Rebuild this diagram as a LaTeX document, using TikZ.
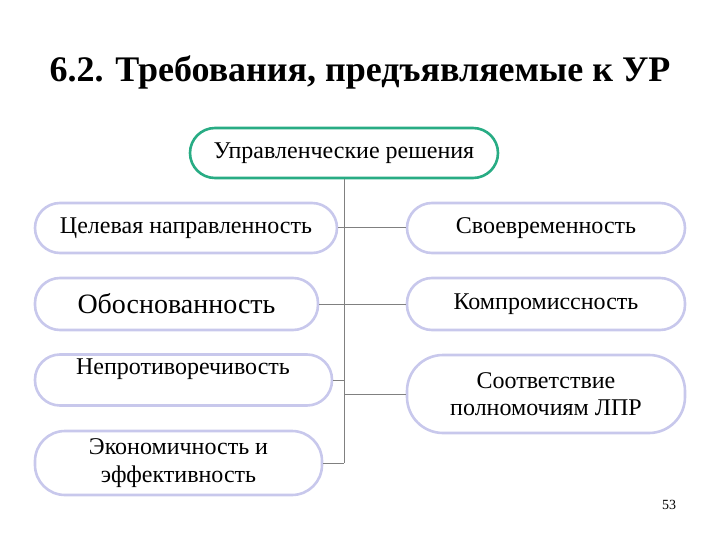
\documentclass[tikz,border=0pt]{standalone}
\usepackage{fontspec}
\setmainfont{Liberation Serif}
\usetikzlibrary{positioning}
\definecolor{topgreen}{RGB}{40,172,132}
\definecolor{lav}{RGB}{200,200,236}
\definecolor{conn}{RGB}{128,128,128}
\tikzset{
  pill/.style={draw=lav, line width=2.6pt, fill=white, rounded corners=25pt, inner sep=0pt, align=center, font=\fontsize{24}{27.5}\selectfont},
  toppill/.style={pill, draw=topgreen},
  link/.style={draw=conn, line width=1pt}
}
\begin{document}
\begin{tikzpicture}[x=1pt,y=-1pt]
\useasboundingbox (0,0) rectangle (720,540);
\node (title) at (360,72) {\fontsize{36}{40}\selectfont\bfseries 6.2. Требования, предъявляемые к УР};
\node[toppill, minimum width=308pt, minimum height=50pt] (top) at (344,153) {Управленческие решения};
% left column
\node[pill, minimum width=302pt, minimum height=50pt] (l1) at (186,228) {Целевая направленность};
\node[pill, minimum width=283pt, minimum height=52pt, font=\fontsize{28}{30}\selectfont] (l2) at (176.5,304) {Обоснованность};
\node[pill, minimum width=297pt, minimum height=51pt] (l3) at (183.5,380) {};
\node[font=\fontsize{24}{28}\selectfont] (l3t) at (183,369) {Непротиворечивость};
\node[pill, rounded corners=30pt, minimum width=287pt, minimum height=64pt] (l4) at (178.5,463) {Экономичность и\\эффективность};
% right column
\node[pill, minimum width=278pt, minimum height=50pt] (r1) at (546,228) {Своевременность};
\node[pill, minimum width=278pt, minimum height=52pt] (r2) at (546,304) {Компромиссность};
\node[pill, rounded corners=36pt, minimum width=278pt, minimum height=78pt] (r3) at (546,394) {Соответствие\\полномочиям ЛПР};
\node[font=\fontsize{14}{16}\selectfont] (pg) at (669,505) {53};
% connectors
\coordinate (trunkend) at (top.south |- l4.east);
\coordinate (j3) at (top.south |- l3.east);
\coordinate (j4) at (top.south |- r3.west);
\draw[link] (top.south) -- (trunkend);
\draw[link] (l1.east) -- (r1.west);
\draw[link] (l2.east) -- (r2.west);
\draw[link] (l3.east) -- (j3);
\draw[link] (j4) -- (r3.west);
\draw[link] (l4.east) -- (trunkend);
\end{tikzpicture}
\end{document}
